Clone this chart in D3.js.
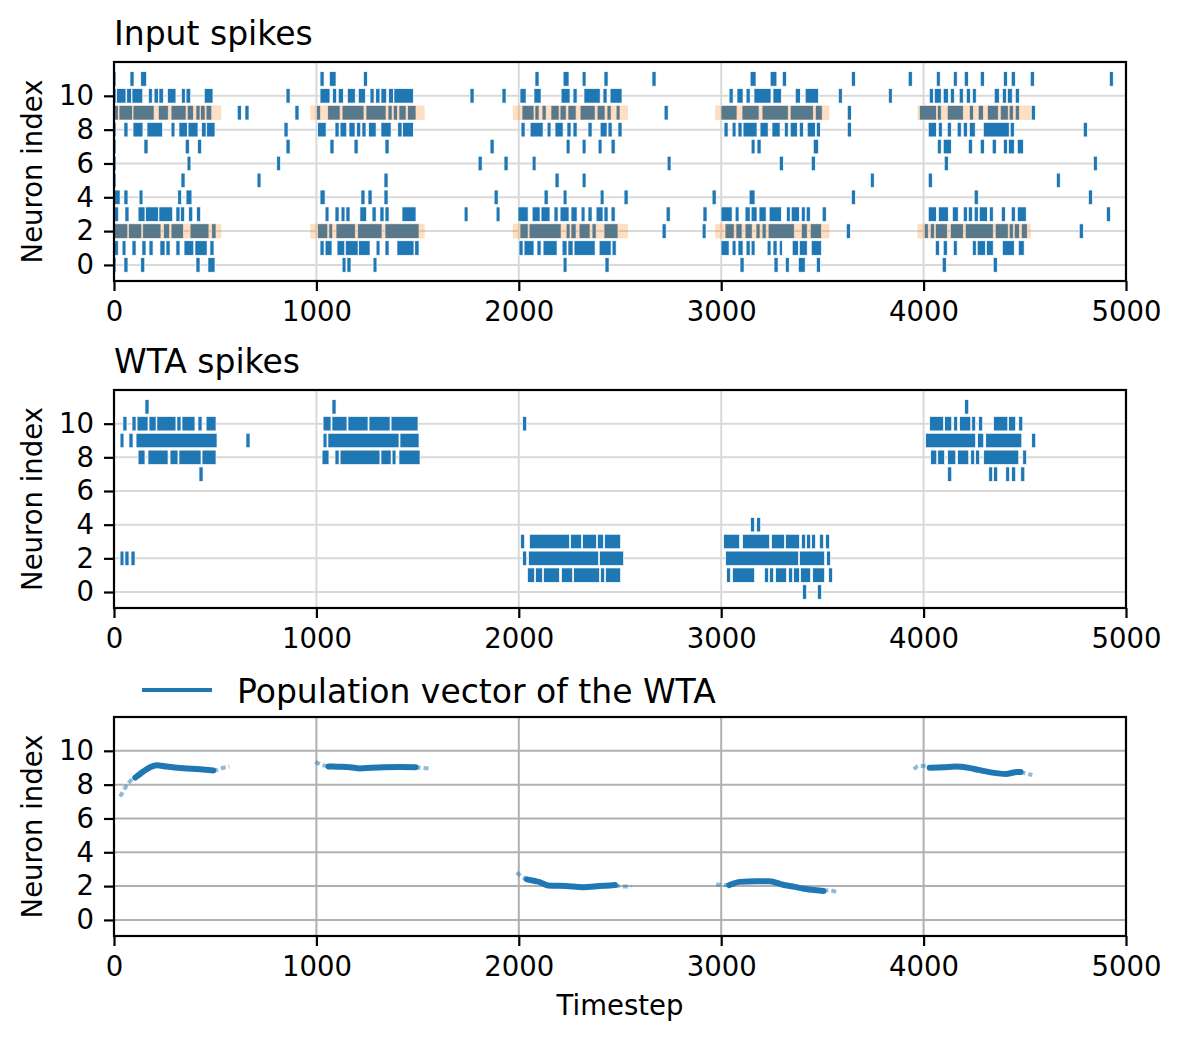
<!DOCTYPE html>
<html>
<head>
<meta charset="utf-8">
<script src="https://cdn.jsdelivr.net/npm/d3@7"></script>
<style>
  body { margin: 0; background: #fff; }
  svg { font-family: "DejaVu Sans", sans-serif; }
</style>
</head>
<body>
<div id="plot"></div>
<script>
// spike segments [start, end] in timesteps, one list per neuron index 0..11
var inputSpikes = [
  [[0,10],[49,69],[132,152],[405,425],[464,499],[1127,1146],[1151,1171],[1280,1299],[2219,2238],[2426,2446],[3093,3113],[3261,3281],[3317,3336],[3381,3415],[3470,3490],[4092,4112],[4344,4364]],
  [[0,21],[40,59],[89,109],[138,158],[173,193],[227,252],[257,277],[306,326],[346,394],[400,460],[474,494],[1018,1038],[1043,1077],[1102,1140],[1143,1206],[1209,1265],[1295,1314],[1339,1359],[1398,1482],[1486,1507],[2001,2021],[2026,2075],[2090,2110],[2120,2189],[2214,2238],[2243,2268],[2273,2377],[2397,2456],[2461,2481],[2999,3039],[3054,3073],[3083,3108],[3123,3143],[3148,3167],[3227,3246],[3256,3276],[3287,3302],[3351,3381],[3386,3425],[3445,3495],[4058,4078],[4097,4117],[4147,4166],[4241,4260],[4265,4305],[4310,4344],[4389,4448],[4468,4497]],
  [[0,68],[72,137],[142,232],[245,275],[282,343],[376,469],[483,504],[1006,1056],[1062,1080],[1097,1192],[1204,1324],[1339,1507],[2006,2046],[2051,2209],[2234,2253],[2258,2283],[2298,2352],[2362,2382],[2421,2490],[2708,2728],[2906,2925],[3019,3064],[3073,3103],[3118,3153],[3172,3192],[3202,3222],[3232,3361],[3396,3425],[3440,3495],[3618,3638],[4003,4023],[4033,4053],[4058,4117],[4132,4196],[4206,4344],[4354,4418],[4423,4443],[4448,4473],[4483,4512],[4769,4789]],
  [[0,23],[54,74],[119,153],[156,219],[222,290],[306,326],[329,349],[369,389],[408,428],[1043,1062],[1092,1112],[1122,1141],[1146,1166],[1215,1248],[1275,1295],[1314,1334],[1339,1359],[1423,1492],[1730,1749],[1888,1907],[1996,2046],[2066,2105],[2110,2154],[2174,2194],[2204,2248],[2258,2288],[2308,2327],[2342,2362],[2382,2416],[2421,2441],[2456,2476],[2728,2748],[2910,2930],[2999,3054],[3069,3088],[3118,3143],[3148,3177],[3187,3222],[3237,3297],[3322,3341],[3346,3386],[3396,3415],[3420,3440],[3499,3519],[4023,4063],[4073,4122],[4142,4171],[4196,4216],[4221,4241],[4250,4270],[4275,4315],[4325,4344],[4384,4404],[4433,4453],[4463,4507],[4903,4923]],
  [[0,30],[49,69],[124,143],[315,334],[356,385],[1018,1043],[1220,1240],[1255,1275],[1334,1354],[1878,1898],[2125,2145],[2219,2238],[2402,2421],[2520,2540],[2955,2975],[3138,3167],[3643,3663],[4250,4270],[4814,4834]],
  [[0,8],[331,351],[707,726],[1334,1354],[2179,2199],[2313,2332],[3737,3756],[4023,4043],[4656,4675]],
  [[0,8],[361,380],[804,823],[1799,1819],[1927,1947],[2066,2085],[2733,2752],[3287,3307],[3445,3465],[4102,4122],[4839,4858]],
  [[0,8],[148,168],[352,372],[413,433],[850,870],[1067,1087],[1186,1206],[1339,1359],[1858,1878],[2234,2253],[2313,2332],[2392,2411],[2456,2476],[3148,3167],[3177,3197],[3455,3480],[4068,4087],[4097,4137],[4221,4241],[4280,4300],[4339,4359],[4394,4414],[4419,4448],[4463,4493]],
  [[0,8],[49,69],[94,143],[163,240],[282,301],[321,362],[366,415],[433,455],[458,499],[840,860],[1006,1048],[1092,1112],[1117,1150],[1161,1191],[1199,1219],[1225,1245],[1258,1295],[1319,1369],[1402,1423],[1426,1479],[2011,2031],[2056,2120],[2140,2159],[2179,2219],[2238,2258],[2268,2288],[2342,2362],[2402,2436],[2441,2461],[2490,2510],[3014,3034],[3054,3073],[3083,3103],[3108,3177],[3192,3232],[3251,3291],[3312,3331],[3341,3376],[3386,3406],[3425,3465],[3470,3490],[3623,3643],[4023,4063],[4073,4092],[4117,4137],[4166,4186],[4196,4216],[4226,4255],[4295,4423],[4428,4448],[4789,4809]],
  [[0,21],[25,91],[94,198],[219,268],[282,356],[362,392],[405,425],[428,450],[455,483],[609,629],[647,667],[894,914],[1001,1021],[1056,1117],[1127,1235],[1245,1344],[1354,1374],[1380,1400],[1408,1443],[1451,1492],[2016,2075],[2080,2100],[2115,2135],[2159,2199],[2204,2234],[2243,2283],[2303,2377],[2387,2426],[2436,2456],[2481,2500],[2718,2738],[2999,3078],[3103,3187],[3202,3331],[3341,3455],[3465,3499],[3623,3643],[3979,4063],[4068,4087],[4117,4196],[4226,4246],[4270,4295],[4315,4369],[4379,4418],[4423,4443],[4453,4473],[4532,4552]],
  [[0,8],[13,59],[63,87],[89,142],[170,189],[198,219],[222,244],[264,306],[333,352],[356,379],[446,489],[850,870],[1018,1067],[1080,1100],[1108,1133],[1153,1192],[1207,1242],[1265,1285],[1293,1314],[1319,1347],[1357,1380],[1383,1479],[1759,1779],[1917,1937],[2006,2036],[2075,2110],[2209,2253],[2268,2288],[2322,2402],[2416,2436],[2451,2510],[3039,3059],[3078,3108],[3123,3143],[3162,3246],[3256,3297],[3366,3391],[3415,3480],[3579,3598],[3826,3845],[4028,4048],[4053,4087],[4097,4122],[4132,4152],[4176,4196],[4211,4231],[4241,4260],[4349,4374],[4389,4409],[4414,4438],[4453,4473]],
  [[0,8],[79,99],[132,161],[1018,1038],[1064,1097],[1232,1252],[2080,2100],[2219,2248],[2313,2332],[2421,2441],[2658,2678],[3143,3172],[3242,3275],[3302,3322],[3643,3663],[3924,3944],[4063,4082],[4147,4166],[4201,4221],[4280,4300],[4394,4414],[4433,4453],[4527,4547],[4918,4937]]
];

var wtaSpikes = [
  [[3402,3422],[3476,3496]],
  [[2043,2078],[2083,2117],[2122,2201],[2211,2266],[2271,2399],[2404,2424],[2429,2503],[3027,3046],[3056,3165],[3214,3234],[3239,3259],[3269,3323],[3333,3353],[3358,3387],[3392,3442],[3452,3511],[3531,3550]],
  [[30,49],[54,74],[84,104],[2019,2039],[2048,2394],[2399,2518],[3022,3382],[3387,3511],[3521,3540]],
  [[2009,2029],[2053,2251],[2256,2310],[2315,2384],[2389,2419],[2424,2503],[3012,3091],[3106,3239],[3249,3313],[3318,3387],[3397,3417],[3422,3442],[3447,3466],[3486,3506],[3516,3535]],
  [[3145,3165],[3175,3195]],
  [],
  [],
  [[420,440],[4119,4139],[4322,4341],[4346,4366],[4406,4425],[4435,4455],[4480,4500]],
  [[119,153],[168,267],[277,316],[321,430],[435,504],[1028,1062],[1092,1112],[1117,1314],[1319,1369],[1374,1393],[1408,1512],[4035,4065],[4070,4104],[4119,4159],[4168,4223],[4233,4252],[4257,4277],[4297,4470],[4490,4509]],
  [[30,49],[74,94],[109,509],[652,672],[1033,1052],[1057,1408],[1413,1507],[4010,4257],[4267,4297],[4307,4485],[4534,4554]],
  [[44,64],[89,109],[114,168],[173,208],[212,306],[311,331],[336,400],[415,435],[455,504],[1033,1072],[1077,1151],[1156,1255],[1260,1364],[1369,1502],[2019,2039],[4030,4099],[4104,4139],[4149,4168],[4178,4233],[4238,4257],[4272,4292],[4346,4416],[4420,4455],[4470,4490]],
  [[153,173],[1077,1097],[4203,4223]]
];

// stimulated neurons and stimulus windows (orange bands)
var stimNeurons = [2, 9];
var stimWindows = [[0, 530], [970, 1535], [1970, 2540], [2970, 3535], [3970, 4530]];

// population vector: dense core and sparse tails, [timestep, neuron index]
var pvCore = [
  [[105,8.42],[145,8.78],[178,9.03],[211,9.15],[260,9.07],[343,8.97],[425,8.91],[490,8.84]],
  [[1060,9.08],[1100,9.06],[1166,9.03],[1215,8.96],[1270,9.0],[1331,9.03],[1413,9.04],[1490,9.03]],
  [[2040,2.4],[2080,2.3],[2103,2.24],[2144,2.04],[2234,2.0],[2317,1.94],[2399,2.0],[2475,2.06]],
  [[3040,2.06],[3060,2.15],[3091,2.25],[3173,2.29],[3239,2.29],[3305,2.08],[3354,1.98],[3404,1.86],[3470,1.75],[3505,1.71]],
  [[4030,9.0],[4100,9.03],[4158,9.07],[4224,8.99],[4273,8.87],[4339,8.71],[4405,8.63],[4462,8.75],[4479,8.75]]
];
var pvTails = [
  [[30,7.3],[45,7.6],[60,7.9],[87,8.29],[105,8.42]],
  [[490,8.84],[507,8.87],[540,9.0],[570,9.07]],
  [[995,9.36],[1010,9.25],[1030,9.15],[1060,9.08]],
  [[1490,9.03],[1520,9.0],[1560,8.95]],
  [[1990,2.82],[2012,2.57],[2040,2.4]],
  [[2475,2.06],[2514,1.98],[2556,1.98]],
  [[2975,2.1],[3017,2.06],[3040,2.06]],
  [[3505,1.71],[3535,1.75],[3570,1.65]],
  [[3952,8.91],[3977,9.11],[4000,9.1],[4030,9.0]],
  [[4479,8.75],[4504,8.67],[4537,8.57]]
];

var xTicks = [0, 1000, 2000, 3000, 4000, 5000];
var yTicks = [0, 2, 4, 6, 8, 10];

var W = 1182, H = 1043;
var left = 114, right = 1126;
var blue = "#1f77b4";

var svg = d3.select("#plot").append("svg")
  .attr("width", W)
  .attr("height", H);

var x = d3.scaleLinear().domain([0, 5000]).range([left, right]);

function makePanel(top, bottom, gridColor, name) {
  var y = d3.scaleLinear().domain([-0.95, 12]).range([bottom, top]);
  var g = svg.append("g");

  g.append("clipPath").attr("id", "clip-" + name)
    .append("rect")
    .attr("x", left).attr("y", top)
    .attr("width", right - left).attr("height", bottom - top);

  // grid
  g.append("g").selectAll("line.v")
    .data(xTicks).join("line")
    .attr("x1", d => x(d)).attr("x2", d => x(d))
    .attr("y1", top).attr("y2", bottom)
    .attr("stroke", gridColor).attr("stroke-width", 2);
  g.append("g").selectAll("line.h")
    .data(yTicks).join("line")
    .attr("x1", left).attr("x2", right)
    .attr("y1", d => y(d)).attr("y2", d => y(d))
    .attr("stroke", gridColor).attr("stroke-width", 2);

  var plot = g.append("g").attr("clip-path", "url(#clip-" + name + ")");

  // axes
  var xa = g.append("g")
    .attr("transform", `translate(0,${bottom})`)
    .call(d3.axisBottom(x).tickValues(xTicks).tickFormat(d3.format("d"))
      .tickSize(10).tickSizeOuter(0).tickPadding(10));
  var ya = g.append("g")
    .attr("transform", `translate(${left},0)`)
    .call(d3.axisLeft(y).tickValues(yTicks).tickFormat(d3.format("d"))
      .tickSize(10).tickSizeOuter(0).tickPadding(10));
  [xa, ya].forEach(function (a) {
    a.select(".domain").remove();
    a.selectAll("line").attr("stroke", "#000").attr("stroke-width", 2.2);
    a.selectAll("text").attr("fill", "#000").style("font-size", "27.5px").style("font-family", "DejaVu Sans");
  });

  svg.append("text")
    .attr("transform", "rotate(-90)")
    .attr("x", -(top + bottom) / 2)
    .attr("y", 42)
    .attr("text-anchor", "middle")
    .style("font-size", "27.5px")
    .text("Neuron index");

  return { g: g, plot: plot, y: y, top: top, bottom: bottom };
}

function frame(p) {
  p.g.append("rect")
    .attr("x", left).attr("y", p.top)
    .attr("width", right - left).attr("height", p.bottom - p.top)
    .attr("fill", "none").attr("stroke", "#000").attr("stroke-width", 2.2);
}

function drawSpikes(p, spikes) {
  var segs = [];
  spikes.forEach(function (list, n) {
    list.forEach(function (s) { segs.push({ n: n, t0: s[0], t1: s[1] }); });
  });
  p.plot.append("g").selectAll("rect")
    .data(segs).join("rect")
    .attr("x", d => x(d.t0))
    .attr("width", d => Math.max(2, x(d.t1) - x(d.t0)))
    .attr("y", d => p.y(d.n + 0.43))
    .attr("height", d => p.y(d.n - 0.43) - p.y(d.n + 0.43))
    .attr("fill", blue)
    .attr("stroke", "#fff")
    .attr("stroke-width", 0.7);
}

// Panel 1: input spikes
var p1 = makePanel(62, 281, "#d9d9d9", "p1");
drawSpikes(p1, inputSpikes);
var bands = [];
stimNeurons.forEach(function (n) {
  stimWindows.forEach(function (w) { bands.push({ n: n, t0: w[0], t1: w[1] }); });
});
p1.plot.append("g").selectAll("rect")
  .data(bands).join("rect")
  .attr("x", d => x(d.t0))
  .attr("width", d => x(d.t1) - x(d.t0))
  .attr("y", d => p1.y(d.n + 0.43))
  .attr("height", d => p1.y(d.n - 0.43) - p1.y(d.n + 0.43))
  .attr("fill", "#ff7f0e")
  .attr("opacity", 0.25);
frame(p1);
svg.append("text").attr("x", left).attr("y", 45)
  .style("font-size", "33px").text("Input spikes");

// Panel 2: WTA spikes
var p2 = makePanel(390, 608, "#d9d9d9", "p2");
drawSpikes(p2, wtaSpikes);
frame(p2);
svg.append("text").attr("x", left).attr("y", 373)
  .style("font-size", "33px").text("WTA spikes");

// Panel 3: population vector
var p3 = makePanel(717, 936, "#b0b0b0", "p3");
var line = d3.line().x(d => x(d[0])).y(d => p3.y(d[1])).curve(d3.curveMonotoneX);
p3.plot.append("g").selectAll("path")
  .data(pvTails).join("path")
  .attr("d", line)
  .attr("fill", "none")
  .attr("stroke", blue)
  .attr("stroke-opacity", 0.5)
  .attr("stroke-width", 4)
  .attr("stroke-dasharray", "5,3");
p3.plot.append("g").selectAll("path")
  .data(pvCore).join("path")
  .attr("d", line)
  .attr("fill", "none")
  .attr("stroke", blue)
  .attr("stroke-width", 6)
  .attr("stroke-linecap", "round");
frame(p3);

svg.append("text")
  .attr("x", (left + right) / 2)
  .attr("y", 1015)
  .attr("text-anchor", "middle")
  .style("font-size", "27.5px")
  .text("Timestep");

// legend
svg.append("line")
  .attr("x1", 142).attr("x2", 212)
  .attr("y1", 690).attr("y2", 690)
  .attr("stroke", blue).attr("stroke-width", 4);
svg.append("text").attr("x", 237).attr("y", 703)
  .style("font-size", "33px").text("Population vector of the WTA");
</script>
</body>
</html>
